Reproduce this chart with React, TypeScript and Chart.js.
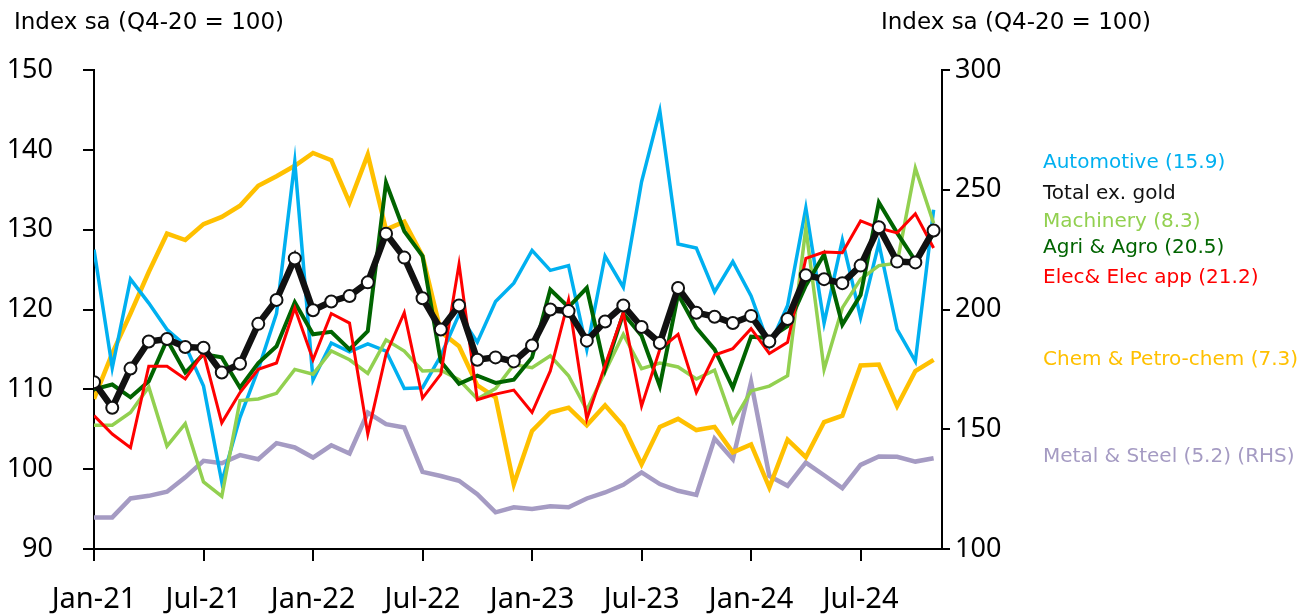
import React, { useEffect, useRef } from "react";
import { Chart, registerables } from "chart.js";

Chart.register(...registerables);

const tickLabels = ["Jan-21", "Jul-21", "Jan-22", "Jul-22", "Jan-23", "Jul-23", "Jan-24", "Jul-24"];
const tickMonths = [0, 6, 12, 18, 24, 30, 36, 42];

const total = [110.9,107.7,112.6,116.0,116.3,115.3,115.2,112.1,113.2,118.2,121.2,126.4,119.9,121.0,121.7,123.4,129.5,126.5,121.4,117.5,120.5,113.7,114.0,113.5,115.5,120.0,119.8,116.1,118.5,120.5,117.8,115.8,122.7,119.6,119.1,118.3,119.2,116.0,118.8,124.3,123.8,123.3,125.5,130.3,126.0,125.9,129.9];
const automotive = [127.5,112.7,123.8,120.8,117.5,115.5,110.4,98.4,106.5,112.5,119.5,138.5,111.2,115.8,114.7,115.7,114.8,110.1,110.2,114.2,119.4,115.9,121.0,123.3,127.4,124.9,125.5,115.0,126.7,122.8,136.0,144.9,128.2,127.7,122.2,126.0,121.7,115.4,120.5,132.7,118.3,128.7,119.0,128.3,117.5,113.5,132.5];
const machinery = [105.5,105.5,107.1,110.3,102.9,105.7,98.4,96.6,108.6,108.8,109.5,112.5,111.9,114.8,113.7,112.0,116.2,114.8,112.3,112.4,111.2,108.8,110.1,113.1,112.7,114.2,111.7,107.4,112.2,116.9,112.6,113.3,112.8,111.3,112.4,105.9,109.8,110.4,111.7,130.2,112.5,120.2,123.8,125.5,125.8,137.7,130.8];
const agri = [110.0,110.6,109.0,111.0,116.2,112.1,114.4,114.0,110.2,113.3,115.4,120.9,116.9,117.2,115.0,117.3,135.9,129.8,126.7,113.5,110.7,111.7,110.8,111.2,114.0,122.5,120.3,122.7,112.5,119.5,116.7,110.4,121.9,117.7,115.0,110.2,116.6,116.4,117.9,123.0,126.9,118.1,121.8,133.4,129.6,126.1,129.5];
const elec = [106.7,104.4,102.7,112.9,112.9,111.3,114.6,105.8,109.6,112.5,113.3,120.2,113.7,119.5,118.3,104.4,114.4,119.6,108.9,111.9,125.7,108.7,109.4,109.9,107.1,112.3,121.2,106.3,113.0,119.6,107.9,115.0,116.9,109.6,114.3,115.1,117.6,114.5,115.9,126.4,127.2,127.1,131.1,130.2,129.6,132.0,127.7];
const chem = [108.8,114.5,119.5,124.7,129.5,128.7,130.7,131.6,133.0,135.5,136.7,138.0,139.6,138.7,133.4,139.4,130.0,131.0,126.7,117.2,115.4,110.5,109.0,98.1,104.8,107.1,107.7,105.5,108.0,105.4,100.6,105.3,106.3,104.9,105.3,102.1,103.1,97.7,103.7,101.5,105.9,106.7,113.0,113.1,107.9,112.3,113.7];
const metal = [113.2,113.2,121.1,122.2,123.9,129.9,136.8,135.8,139.2,137.5,144.2,142.4,138.2,143.3,139.9,157.0,152.1,150.7,132.2,130.5,128.5,122.9,115.3,117.4,116.7,117.8,117.4,121.1,123.6,126.8,132.0,127.1,124.3,122.6,146.1,137.5,169.7,130.5,126.4,136.1,130.8,125.4,135.1,138.6,138.5,136.5,137.9];

const leftTicks = [90, 100, 110, 120, 130, 140, 150];
const rightTicks = [100, 150, 200, 250, 300];

const FONT = "'DejaVu Sans', sans-serif";
const TICK_FONT = "'Noto Sans', sans-serif";

const legendItems = [
  { text: "Automotive (15.9)", color: "#00B0F0", top: 161 },
  { text: "Total ex. gold", color: "#111111", top: 192 },
  { text: "Machinery (8.3)", color: "#92D050", top: 220 },
  { text: "Agri & Agro (20.5)", color: "#006400", top: 246 },
  { text: "Elec& Elec app (21.2)", color: "#FF0000", top: 276 },
  { text: "Chem & Petro-chem (7.3)", color: "#FFC000", top: 358 },
  { text: "Metal & Steel (5.2) (RHS)", color: "#A59BC3", top: 455 },
];

const pts = (arr: number[]) => arr.map((v, i) => ({ x: i, y: v }));

export default function App() {
  const ref = useRef<HTMLCanvasElement | null>(null);
  useEffect(() => {
    if (!ref.current) return;
    const line = (label: string, data: number[], color: string, width: number, order: number, axis = "y") => ({
      label,
      data: pts(data),
      borderColor: color,
      backgroundColor: color,
      borderWidth: width,
      pointRadius: 0,
      tension: 0,
      order,
      yAxisID: axis,
    });
    const chart = new Chart(ref.current, {
      type: "line",
      data: {
        datasets: [
          {
            ...line("Total ex. gold", total, "#111111", 6.5, 0),
            pointRadius: 6,
            pointBackgroundColor: "#ffffff",
            pointBorderColor: "#111111",
            pointBorderWidth: 2,
          },
          line("Elec& Elec app (21.2)", elec, "#FF0000", 3, 1),
          line("Agri & Agro (20.5)", agri, "#006400", 4, 2),
          line("Machinery (8.3)", machinery, "#92D050", 3.5, 3),
          line("Automotive (15.9)", automotive, "#00B0F0", 3.5, 4),
          line("Chem & Petro-chem (7.3)", chem, "#FFC000", 4.5, 5),
          line("Metal & Steel (5.2) (RHS)", metal, "#A59BC3", 4.5, 6, "y2"),
        ] as any,
      },
      options: {
        responsive: false,
        animation: false,
        layout: { padding: { top: 70, left: 0, right: 0, bottom: 0 } },
        plugins: { legend: { display: false }, tooltip: { enabled: false } },
        scales: {
          x: {
            type: "linear",
            min: 0,
            max: 46.46,
            afterBuildTicks: (s: any) => {
              s.ticks = tickMonths.map((v) => ({ value: v }));
            },
            afterFit: (s: any) => {
              s.height = 65;
            },
            ticks: {
              autoSkip: false,
              maxRotation: 0,
              color: "#000",
              font: { family: TICK_FONT, size: 29 },
              padding: 21,
              callback: (v: any) => tickLabels[tickMonths.indexOf(Number(v))] ?? "",
            },
            grid: { drawOnChartArea: false, drawTicks: true, tickLength: 12, color: "#000", lineWidth: 2 },
            border: { display: true, color: "#000", width: 2 },
          },
          y: {
            type: "linear",
            position: "left",
            min: 90,
            max: 150,
            afterBuildTicks: (s: any) => {
              s.ticks = leftTicks.map((v) => ({ value: v }));
            },
            afterFit: (s: any) => {
              s.width = 94;
            },
            ticks: { color: "#000", font: { family: TICK_FONT, size: 27 }, padding: 30 },
            grid: { drawOnChartArea: false, drawTicks: true, tickLength: 11, color: "#000", lineWidth: 2 },
            border: { display: true, color: "#000", width: 2 },
          },
          y2: {
            type: "linear",
            position: "right",
            min: 100,
            max: 300,
            afterBuildTicks: (s: any) => {
              s.ticks = rightTicks.map((v) => ({ value: v }));
            },
            afterFit: (s: any) => {
              s.width = 362;
            },
            ticks: { color: "#000", font: { family: TICK_FONT, size: 27 }, padding: 5 },
            grid: { drawOnChartArea: false, drawTicks: true, tickLength: 8, color: "#000", lineWidth: 2 },
            border: { display: true, color: "#000", width: 2 },
          },
        },
      } as any,
    });
    return () => chart.destroy();
  }, []);

  return (
    <div style={{ position: "fixed", left: 0, top: 0, width: 1304, height: 614, background: "#fff", fontFamily: FONT }}>
      <canvas ref={ref} width={1304} height={614} style={{ position: "absolute", left: 0, top: 0, width: 1304, height: 614 }} />
      <div style={{ position: "absolute", left: 14, top: 5, fontSize: 23, lineHeight: "32px", color: "#000", whiteSpace: "nowrap" }}>
        Index sa (Q4-20 = 100)
      </div>
      <div style={{ position: "absolute", left: 881, top: 5, fontSize: 23, lineHeight: "32px", color: "#000", whiteSpace: "nowrap" }}>
        Index sa (Q4-20 = 100)
      </div>
      {legendItems.map((it) => (
        <div
          key={it.text}
          style={{
            position: "absolute",
            left: 1043,
            top: it.top - 14,
            fontSize: 20,
            lineHeight: "28px",
            color: it.color,
            whiteSpace: "nowrap",
          }}
        >
          {it.text}
        </div>
      ))}
    </div>
  );
}
